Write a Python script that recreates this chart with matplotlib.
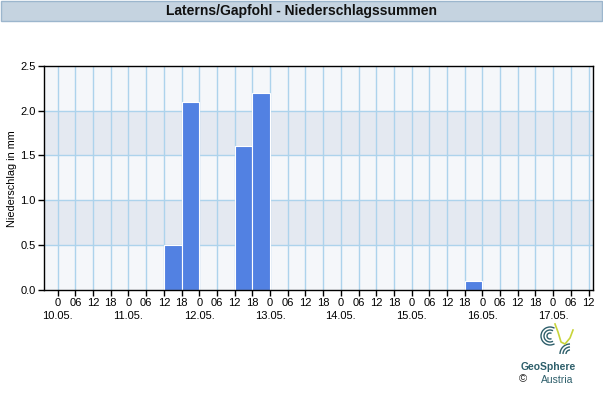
import numpy as np
import matplotlib.pyplot as plt
from matplotlib.patches import Rectangle, Arc

plt.rcParams['font.family'] = ['Liberation Sans', 'DejaVu Sans']

# precipitation sums per 6h interval (hours since 10.05. 00:00)
bar_start = [36, 42, 60, 66, 138]
bar_value = [0.5, 2.1, 1.6, 2.2, 0.1]
tick_hours = list(range(0, 181, 6))
tick_labels = ['0' if h % 24 == 0 else f'{h % 24:02d}' for h in tick_hours]
day_labels = ['10.05.', '11.05.', '12.05.', '13.05.', '14.05.', '15.05.', '16.05.', '17.05.']

W, H = 603, 400
fig = plt.figure(figsize=(W / 100, H / 100), dpi=100)

# title bar
fig.patches.append(Rectangle((1 / W, 1 - 21 / H), 601 / W, 20 / H, transform=fig.transFigure,
                             facecolor='#c5d3e0', edgecolor='#9cb6cd', lw=1))
fig.text(0.5, 1 - 11 / H, 'Laterns/Gapfohl - Niederschlagssummen', ha='center', va='center',
         fontsize=10, fontweight='bold', color='#111111')

left, right, top, bottom = 44, 593, 65.7, 290
ax = fig.add_axes([left / W, 1 - bottom / H, (right - left) / W, (bottom - top) / H])
ax.set_xlim(-4.65, 181.5)
ax.set_ylim(0, 2.5)

for i, y0 in enumerate(np.arange(0, 2.5, 0.5)):
    ax.axhspan(y0, y0 + 0.5, color='#e4e9f1' if i % 2 else '#f5f7fa', zorder=0, lw=0)
for h in tick_hours:
    ax.axvline(h, color='#add3ec', lw=1, zorder=1)
for y in np.arange(0.5, 2.5, 0.5):
    ax.axhline(y, color='#add3ec', lw=1, zorder=1)

ax.bar(bar_start, bar_value, width=6, align='edge', color='#5281e2',
       edgecolor='white', lw=0.8, zorder=2)

ax.set_xticks(tick_hours)
ax.set_xticklabels(tick_labels, fontsize=8)
ax.set_yticks(np.arange(0, 2.51, 0.5))
ax.set_yticklabels([f'{v:.1f}' for v in np.arange(0, 2.51, 0.5)], fontsize=8)
ax.tick_params(length=4, width=1, pad=2, color='black')
for s in ax.spines.values():
    s.set_linewidth(1)
    s.set_color('black')

fig.text(12 / W, 1 - 179 / H, 'Niederschlag in mm', rotation=90, ha='center', va='center',
         fontsize=7.8)

for d, lab in enumerate(day_labels):
    ax.text(d * 24, -0.23, lab, ha='center', va='top', fontsize=8,
            transform=ax.transData, clip_on=False)

# logo
fig.text(548 / W, 1 - 367 / H, 'GeoSphere', ha='center', va='center', fontsize=7.5,
         fontweight='bold', color='#2e5f6b')
fig.text(557 / W, 1 - 380 / H, 'Austria', ha='center', va='center', fontsize=7.5, color='#2e5f6b')
fig.text(523 / W, 1 - 379 / H, '©', ha='center', va='center', fontsize=8, color='#222222')
lax = fig.add_axes([538 / W, 1 - 358 / H, 40 / W, 36 / H])
lax.set_xlim(0, 40)
lax.set_ylim(0, 36)
lax.axis('off')
for r in (3, 6, 9):
    lax.add_patch(Arc((12, 22), r * 2, r * 2, theta1=60, theta2=300, color='#2e5f6b', lw=1))
for r in (4, 7, 10):
    lax.add_patch(Arc((32, 4), r * 2, r * 2, theta1=90, theta2=180, color='#2e5f6b', lw=1))
lax.plot([17, 20, 23, 27, 32, 35], [34, 26, 16, 14, 20, 28], color='#c8d43a', lw=1.2)

fig.savefig('out.png', dpi=100)
